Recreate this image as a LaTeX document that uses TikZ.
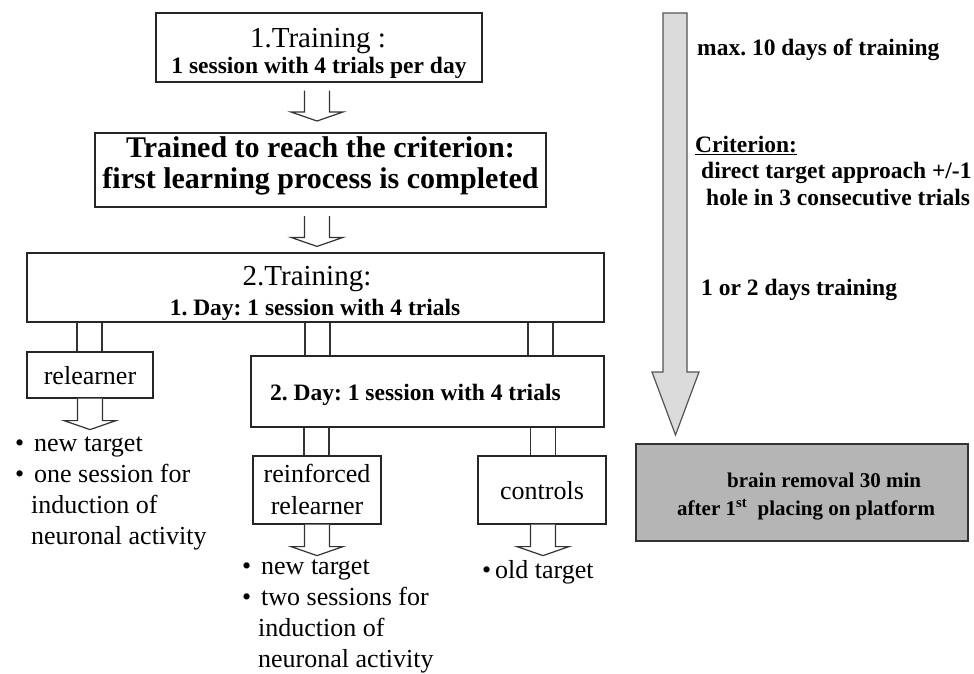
\documentclass[tikz,border=0pt]{standalone}
\usepackage{fontspec}
\setmainfont{Liberation Serif}
\usetikzlibrary{calc}

\definecolor{arrowfill}{gray}{0.86}
\definecolor{arrowline}{gray}{0.33}
\definecolor{resultfill}{gray}{0.71}

% font sizes (picture unit: 1pt)
\newcommand{\fReg}{\fontsize{26}{32}\selectfont}
\newcommand{\fHead}{\fontsize{29}{34}\selectfont}
\newcommand{\fBig}{\fontsize{30}{36}\selectfont\bfseries}
\newcommand{\fMid}{\fontsize{23.5}{28}\selectfont\bfseries}
\newcommand{\fRes}{\fontsize{21}{26}\selectfont\bfseries}

\tikzset{
  box/.style={draw=black!85, line width=1.2pt, fill=white, inner sep=0pt},
  tube/.style={draw=black!80, line width=1.2pt},
  hollow/.style={draw=black!80, line width=1.2pt, fill=white, line join=miter},
  txt/.style={inner sep=0pt, anchor=base},
  txtl/.style={inner sep=0pt, anchor=base west},
}

% open double-line connector between the bottom of #1 and the top of #2 at x = #3
\newcommand{\tubeat}[3]{%
  \draw[tube] let \p1=(#1.south), \p2=(#2.north) in
    (#3pt-12.5pt,\y1) -- (#3pt-12.5pt,\y2)
    (#3pt+12.5pt,\y1) -- (#3pt+12.5pt,\y2);}

% hollow block arrow from #1 (top of shaft) down to the tip #2
\newcommand{\fatarrow}[2]{%
  \draw[hollow] let \p1=#1, \p2=#2 in
    (\x1-12.5pt,\y1) -- (\x1-12.5pt,\y2+9pt) -- (\x1-26pt,\y2+9pt) -- (\x1,\y2)
    -- (\x1+26pt,\y2+9pt) -- (\x1+12.5pt,\y2+9pt) -- (\x1+12.5pt,\y1);}

\begin{document}
\frenchspacing
\begin{tikzpicture}[x=1pt,y=-1pt]
\useasboundingbox (0,0) rectangle (974,673);

% ---------- boxes ----------
\node[box, minimum width=326pt, minimum height=69pt] (b1) at (319,47.5) {};
\node[box, line width=2pt, minimum width=451pt, minimum height=74pt] (b2) at (320.5,170) {};
\node[box, minimum width=577pt, minimum height=69pt] (b3) at (315.5,287.5) {};
\node[box, minimum width=353pt, minimum height=71pt] (b4) at (427.5,391.5) {};
\node[box, minimum width=126pt, minimum height=46pt] (rl) at (90,375) {};
\node[box, minimum width=128pt, minimum height=68pt] (rf) at (317,490) {};
\node[box, minimum width=128pt, minimum height=68pt] (ct) at (542,490) {};
\node[box, draw=black!80, fill=resultfill, minimum width=332pt, minimum height=97pt] (res) at (802,492.5) {};

% ---------- box texts ----------
\node[txt, font=\fHead] (t1a) at (318,47) {1.Training :};
\node[txt, font=\fMid] (t1b) at (319,73) {1 session with 4 trials per day};
\node[txt, font=\fBig] (t2a) at (320.5,157) {Trained to reach the criterion:};
\node[txt, font=\fBig] (t2b) at (320.5,188) {first learning process is completed};
\node[txt, font=\fHead] (t3a) at (307,285) {2.Training:};
\node[txt, font=\fMid] (t3b) at (315,315) {1. Day: 1 session with 4 trials};
\node[txtl, font=\fMid] (t4) at (270,400) {2. Day: 1 session with 4 trials};
\node[txt, font=\fReg] (trl) at (90,384) {relearner};
\node[txt, font=\fReg] (trf1) at (317,482) {reinforced};
\node[txt, font=\fReg] (trf2) at (317,514) {relearner};
\node[txt, font=\fReg] (tct) at (542,499) {controls};
\node[txtl, font=\fRes] (tres1) at (727,487) {brain removal 30 min};
\node[txtl, font=\fRes] (tres2) at (677,515) {after 1\textsuperscript{st}\ \ placing on platform};

% ---------- connectors ----------
\fatarrow{($(b1.south)+(-2,8)$)}{($(b2.north)+(-3.5,-11)$)}
\fatarrow{($(b2.south)+(-3.5,8)$)}{($(b3.north)+(1.5,-6)$)}
\tubeat{b3}{rl}{89.5}
\tubeat{b3}{b4}{317.5}
\tubeat{b3}{b4}{540.5}
\tubeat{b4}{rf}{316.5}
\tubeat{b4}{ct}{543}
\fatarrow{(rl.south)}{($(rl.south)+(0,31)$)}
\fatarrow{(rf.south)}{($(rf.south)+(0,31)$)}
\fatarrow{($(ct.south)+(1,0)$)}{($(ct.south)+(1,31)$)}

% ---------- outcome lists ----------
\node[txtl, font=\fReg] (l1) at (15,451) {•};
\node[txtl, font=\fReg] (l1t) at (34,451) {new target};
\node[txtl, font=\fReg] (l2) at (15,482) {•};
\node[txtl, font=\fReg] (l2t) at (34,482) {one session for};
\node[txtl, font=\fReg] (l3t) at (31,513) {induction of};
\node[txtl, font=\fReg] (l4t) at (31,544) {neuronal activity};

\node[txtl, font=\fReg] (m1) at (242,574) {•};
\node[txtl, font=\fReg] (m1t) at (261,574) {new target};
\node[txtl, font=\fReg] (m2) at (242,605) {•};
\node[txtl, font=\fReg] (m2t) at (261,605) {two sessions for};
\node[txtl, font=\fReg] (m3t) at (258,636) {induction of};
\node[txtl, font=\fReg] (m4t) at (258,667) {neuronal activity};

\node[txtl, font=\fReg] (o1) at (482,578) {•};
\node[txtl, font=\fReg] (o1t) at (495,578) {old target};

% ---------- time line ----------
\coordinate (gtop) at (675,13);
\coordinate (gtip) at (675.5,435);
\draw[fill=arrowfill, draw=arrowline, line width=1.2pt]
  ($(gtop)+(-12,0)$) -- ($(gtop)+(12,0)$) -- ($(gtop)+(12,359)$) -- ($(gtip)+(23.5,-63)$)
  -- (gtip) -- ($(gtip)+(-23.5,-63)$) -- ($(gtop)+(-12,359)$) -- cycle;

\node[txtl, font=\fMid] (r1) at (697,55) {max. 10 days of training};
\node[txtl, font=\fMid] (r2) at (695,152) {\underline{Criterion:}};
\node[txtl, font=\fMid] (r3) at (701,178) {direct target approach +/-1};
\node[txtl, font=\fMid] (r4) at (706,205) {hole in 3 consecutive trials};
\node[txtl, font=\fMid] (r5) at (701,295) {1 or 2 days training};
\end{tikzpicture}
\end{document}
